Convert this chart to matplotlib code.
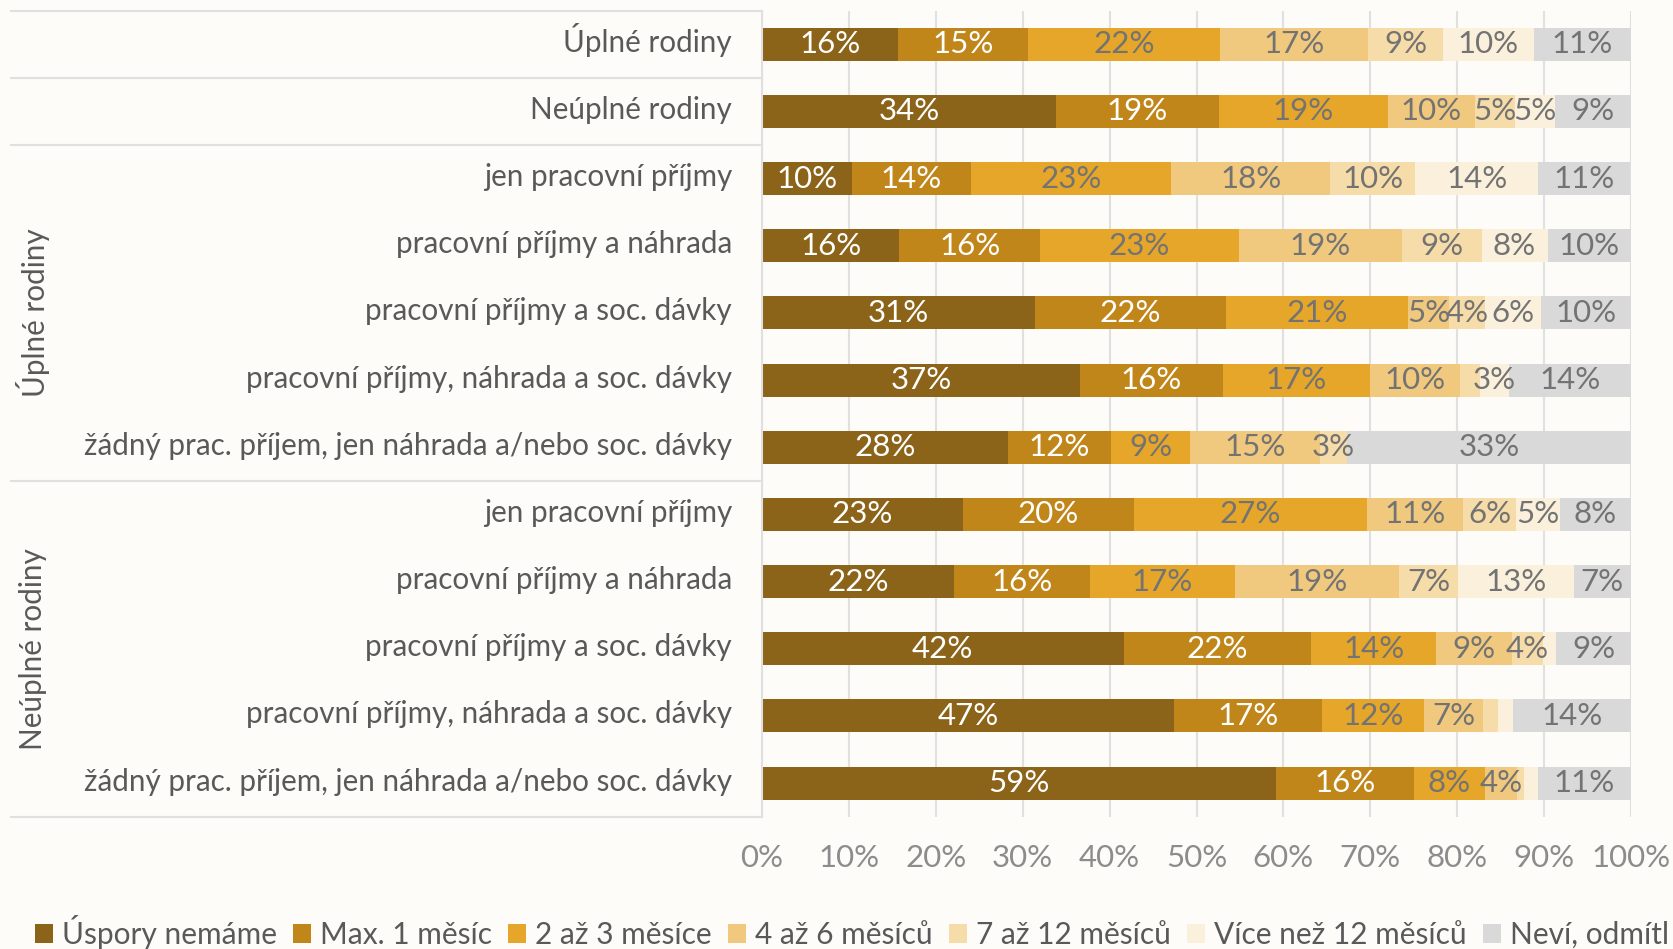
import matplotlib.pyplot as plt
import matplotlib.transforms as mtransforms

plt.rcParams['font.family'] = ['Lato', 'DejaVu Sans']

categories = [
    "Úplné rodiny",
    "Neúplné rodiny",
    "jen pracovní příjmy",
    "pracovní příjmy a náhrada",
    "pracovní příjmy a soc. dávky",
    "pracovní příjmy, náhrada a soc. dávky",
    "žádný prac. příjem, jen náhrada a/nebo soc. dávky",
    "jen pracovní příjmy",
    "pracovní příjmy a náhrada",
    "pracovní příjmy a soc. dávky",
    "pracovní příjmy, náhrada a soc. dávky",
    "žádný prac. příjem, jen náhrada a/nebo soc. dávky",
]
groups = ["Úplné rodiny", "Neúplné rodiny"]

series_names = ["Úspory nemáme", "Max. 1 měsíc", "2 až 3 měsíce", "4 až 6 měsíců",
                "7 až 12 měsíců", "Více než 12 měsíců", "Neví, odmítl"]

uspory_nemame = [15.6, 33.8, 10.4, 15.8, 31.4, 36.6, 28.3, 23.1, 22.1, 41.6, 47.4, 59.2]
max_1_mesic = [15.0, 18.8, 13.6, 16.2, 22.0, 16.4, 11.9, 19.7, 15.6, 21.6, 17.0, 15.8]
mesice_2_3 = [22.1, 19.4, 23.1, 22.9, 20.9, 17.0, 9.0, 26.8, 16.7, 14.4, 11.8, 8.2]
mesice_4_6 = [17.0, 10.0, 18.3, 18.7, 4.8, 10.3, 15.0, 11.1, 18.9, 8.7, 6.8, 3.7]
mesice_7_12 = [8.7, 4.6, 9.8, 9.2, 4.1, 2.3, 3.1, 6.1, 6.8, 3.6, 1.7, 0.8]
vice_12 = [10.4, 4.6, 14.1, 7.6, 6.4, 3.4, 0.0, 5.0, 13.3, 1.5, 1.7, 1.6]
nevi = [11.2, 8.8, 10.6, 9.6, 10.4, 14.0, 32.8, 8.2, 6.6, 8.6, 13.6, 10.7]

series = [uspory_nemame, max_1_mesic, mesice_2_3, mesice_4_6, mesice_7_12, vice_12, nevi]
colors = ["#8b6319", "#c0861a", "#e5a629", "#f0c97e", "#f6dca8", "#faf0dc", "#d9d9d9"]
label_colors = ["white", "white", "#737373", "#737373", "#737373", "#737373", "#737373"]

bg = "#fdfcf8"
line_c = "#e0e0e0"
fs_cat = 21.3
fs_val = 22.5
fs_tick = 22.5
fs_leg = 21.5

fig = plt.figure(figsize=(16.74, 9.49), dpi=100, facecolor=bg)
ax = fig.add_axes([762 / 1674, 1 - 816.7 / 949, 869 / 1674, 806 / 949], facecolor=bg)

ypos = list(range(len(categories)))
left = [0.0] * len(categories)
for name, vals, col, lc in zip(series_names, series, colors, label_colors):
    ax.barh(ypos, [v / 100 for v in vals], left=left, height=0.49, color=col,
            label=name, zorder=2)
    for i, v in enumerate(vals):
        if v >= 2.5:
            ax.text((left[i] + v / 200), i, f"{v:.0f}%", ha='center', va='center',
                    color=lc, fontsize=fs_val, zorder=3)
    left = [l + v / 100 for l, v in zip(left, vals)]

ax.set_ylim(11.5, -0.5)
ax.set_xlim(0, 1)
ax.set_xticks([i / 10 for i in range(11)])
ax.set_xticklabels([f"{i * 10}%" for i in range(11)], color="#8c8c8c", fontsize=fs_tick)
ax.set_yticks(ypos)
ax.set_yticklabels([])
ax.tick_params(axis='y', length=0)
ax.tick_params(axis='x', length=0, pad=20)
ax.grid(axis='x', color=line_c, lw=1.5, zorder=0)
for s in ['top', 'right', 'bottom']:
    ax.spines[s].set_visible(False)
ax.spines['left'].set_color(line_c)
ax.spines['left'].set_linewidth(1.5)

trans = mtransforms.blended_transform_factory(ax.transAxes, ax.transData)

# category labels
cat_trans = trans + mtransforms.ScaledTranslation(0, -7.5 / 100, fig.dpi_scale_trans)
for i, c in enumerate(categories):
    ax.text(-30 / 869, i, c, ha='right', va='baseline', color="#595959",
            fontsize=fs_cat, transform=cat_trans)

# table lines on the left
x_left = (10.7 - 762) / 869
for yb in [-0.5, 0.5, 1.5, 6.5, 11.5]:
    ax.plot([x_left, 0], [yb, yb], color=line_c, lw=1.5, transform=trans, clip_on=False)

gx = (33 - 762) / 869
ax.text(gx, 4, groups[0], rotation=90, ha='center', va='center', color="#595959",
        fontsize=fs_cat, transform=trans)
ax.text(gx, 9, groups[1], rotation=90, ha='center', va='center', color="#595959",
        fontsize=fs_cat, transform=trans)

leg = fig.legend(loc='center left', bbox_to_anchor=(8 / 1674, 1 - 932 / 949), ncol=7,
                 frameon=False, fontsize=fs_leg, handlelength=0.6, handleheight=0.6,
                 handletextpad=0.3, columnspacing=0.55, labelcolor="#595959")

fig.savefig("out.png", facecolor=bg)
